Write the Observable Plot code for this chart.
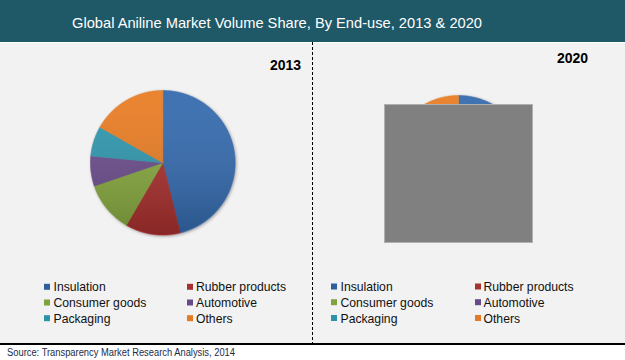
<!DOCTYPE html>
<html><head><meta charset="utf-8">
<script src="https://cdn.jsdelivr.net/npm/d3@7"></script>
<script src="https://cdn.jsdelivr.net/npm/@observablehq/plot@0.6"></script>
<style>
body{margin:0;background:#fff;font-family:Arial,"Liberation Sans",sans-serif;}
#c{position:relative;width:625px;height:360px;overflow:hidden;}
#c > svg, #c > div{position:absolute;}
.pie{filter:drop-shadow(1px 1.5px 1.5px rgba(0,0,0,0.35));}
</style></head><body><div id="c"></div>
<script>
const titleText = "Global Aniline Market Volume Share, By End-use, 2013 & 2020";
const sourceText = "Source: Transparency Market Research Analysis, 2014";
const years = ["2013", "2020"];
const categories = ["Insulation", "Rubber products", "Consumer goods", "Automotive", "Packaging", "Others"];
const share2013 = [46.1, 12.3, 11.4, 6.7, 6.7, 16.8];
const share2020 = [47.0, 12.0, 11.5, 6.5, 6.5, 16.5];
const sliceColors = ["#346aae", "#a9302e", "#87a93f", "#6b4d8c", "#2f97ae", "#e97c23"];
const swatchColors = ["#2f5e9c", "#a53231", "#80a23e", "#674a88", "#2e92a8", "#e37a26"];

const W = 625, H = 360;
const root = d3.select("#c");

// background / frame
const bg = root.append("svg").attr("width", W).attr("height", H).style("left", "0px").style("top", "0px");
bg.append("rect").attr("x", 0).attr("y", 0).attr("width", W).attr("height", 42).attr("fill", "#1f5867");
bg.append("rect").attr("x", 0).attr("y", 43).attr("width", W).attr("height", 300).attr("fill", "#f2f2f2");
bg.append("rect").attr("x", 0).attr("y", 343).attr("width", W).attr("height", 2).attr("fill", "#000");
bg.append("line").attr("x1", 312.5).attr("x2", 312.5).attr("y1", 42).attr("y2", 343)
  .attr("stroke", "#000").attr("stroke-width", 1).attr("stroke-dasharray", "3,2");
bg.append("text").attr("x", 72).attr("y", 27.5).attr("fill", "#fff").attr("font-size", 15)
  .attr("textLength", 410).attr("lengthAdjust", "spacingAndGlyphs").text(titleText);
bg.append("text").attr("x", 7).attr("y", 356).attr("fill", "#1c2b48").attr("font-size", 10)
  .attr("textLength", 228).attr("lengthAdjust", "spacingAndGlyphs").text(sourceText);

const panels = [
  {year: years[0], values: share2013, cx: 162, cy: 162.3, r: 72.3, labelX: 270, labelY: 70,
   legend: {sx: [44, 187], tx: [53.5, 196], rows: [291.3, 307, 322.7]}},
  {year: years[1], values: share2020, cx: 457.7, cy: 165, r: 70, labelX: 557, labelY: 63.3,
   legend: {sx: [331, 475], tx: [340.5, 483.5], rows: [291, 306.7, 322.5]}}
];

panels.forEach(p => {
  bg.append("text").attr("x", p.labelX).attr("y", p.labelY).attr("font-size", 14)
    .attr("font-weight", "bold").attr("fill", "#000").text(p.year);
  categories.forEach((c, i) => {
    const col = i % 2, row = Math.floor(i / 2);
    const by = p.legend.rows[row];
    bg.append("rect").attr("x", p.legend.sx[col]).attr("y", by - 7.5).attr("width", 6).attr("height", 6)
      .attr("fill", swatchColors[i]);
    bg.append("text").attr("x", p.legend.tx[col]).attr("y", by).attr("font-size", 12.2)
      .attr("fill", "#111").text(c);
  });
});

function piePoints(values) {
  const arcs = d3.pie().sort(null).value(d => d)(values);
  const pts = [];
  arcs.forEach((a, i) => {
    pts.push({cat: categories[i], x: 0, y: 0});
    const n = Math.max(2, Math.ceil((a.endAngle - a.startAngle) / 0.01));
    for (let k = 0; k <= n; k++) {
      const t = a.startAngle + (a.endAngle - a.startAngle) * k / n;
      pts.push({cat: categories[i], x: Math.sin(t), y: Math.cos(t)});
    }
    pts.push({cat: categories[i], x: 0, y: 0});
  });
  return pts;
}

panels.forEach((p, idx) => {
  const m = 3;
  const size = 2 * p.r + 2 * m;
  const svg = Plot.plot({
    width: size, height: size, margin: m,
    style: {background: "transparent", overflow: "visible"},
    x: {domain: [-1, 1], axis: null},
    y: {domain: [-1, 1], axis: null},
    color: {domain: categories, range: sliceColors},
    marks: [
      Plot.line(piePoints(p.values), {x: "x", y: "y", z: "cat", fill: "cat", stroke: "cat", strokeWidth: 0.6, curve: "linear"})
    ]
  });
  const s = d3.select(svg);
  const gid = "shade" + idx;
  const grad = s.insert("defs", ":first-child").append("linearGradient").attr("id", gid)
    .attr("x1", 0).attr("y1", 0).attr("x2", 0).attr("y2", 1);
  grad.append("stop").attr("offset", "0%").attr("stop-color", "#fff").attr("stop-opacity", 0.06);
  grad.append("stop").attr("offset", "100%").attr("stop-color", "#000").attr("stop-opacity", 0.2);
  s.append("circle").attr("cx", size / 2).attr("cy", size / 2).attr("r", p.r)
    .attr("fill", `url(#${gid})`).attr("pointer-events", "none");
  svg.classList.add("pie");
  svg.style.position = "absolute";
  svg.style.left = (p.cx - size / 2) + "px";
  svg.style.top = (p.cy - size / 2) + "px";
  svg.style.maxWidth = "none";
  document.getElementById("c").appendChild(svg);
});

// grey box covering the 2020 pie (as in the reference image)
root.append("div").style("left", "384px").style("top", "104px").style("width", "149px").style("height", "139px")
  .style("box-sizing", "border-box").style("background", "#808080").style("border", "1px solid #b0b0b0");
</script>
</body></html>
